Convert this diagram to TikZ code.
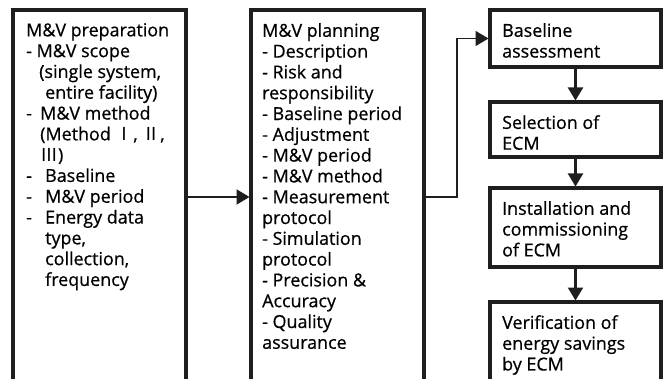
\documentclass[tikz,border=0pt]{standalone}
\usepackage{fontspec}
\setmainfont{Open Sans}[FakeBold=0.6]
\newfontfamily\cjkfont{Noto Sans CJK KR}
\usetikzlibrary{arrows.meta}
\definecolor{lc}{RGB}{30,30,30}
\newcommand\romnum[1]{{\cjkfont #1}}
\tikzset{
  box/.style={draw=lc, line width=3.4pt, outer sep=0pt, inner sep=0pt, anchor=north west},
  txt/.style={font=\fontsize{17.9}{20.8}\selectfont, align=left, inner sep=0pt, anchor=north west, text=black},
  conn/.style={draw=lc, line width=2.2pt, shorten >=1.5pt, -{Triangle[length=13pt,width=15pt]}},
}
\begin{document}
\begin{tikzpicture}[x=1pt,y=-1pt]
\useasboundingbox (0,0) rectangle (663,379);
\clip (0,0) rectangle (663,379);
% boxes
\node[box, minimum width=173pt, minimum height=400pt] (prep) at (13,10) {};
\node[box, minimum width=173pt, minimum height=400pt] (plan) at (251,10) {};
\node[box, minimum width=171pt, minimum height=57pt] (b1) at (490,10) {};
\node[box, minimum width=171pt, minimum height=55pt] (b2) at (490,102) {};
\node[box, minimum width=171pt, minimum height=79pt] (b3) at (490,188) {};
\node[box, minimum width=171pt, minimum height=100pt] (b4) at (490,302) {};
% texts
\node[txt] (prept) at ([shift={(13,13)}]prep.north west) {M\&V preparation\\
- M\&V scope\\
\hspace*{13pt}(single system,\\
\hspace*{19pt}entire facility)\\
\makebox[14pt][l]{-}M\&V method\\
\hspace*{14pt}(Method \romnum{Ⅰ}, \romnum{Ⅱ},\\
\hspace*{14pt}\romnum{Ⅲ})\\
\makebox[19pt][l]{-}Baseline\\
\makebox[19pt][l]{-}M\&V period\\
\makebox[19pt][l]{-}Energy data\\
\hspace*{19pt}type,\\
\hspace*{19pt}collection,\\
\hspace*{19pt}frequency};
\node[txt] (plant) at ([shift={(11,13)}]plan.north west) {M\&V planning\\
- Description\\
- Risk and\\
responsibility\\
- Baseline period\\
- Adjustment\\
- M\&V period\\
- M\&V method\\
- Measurement\\
protocol\\
- Simulation\\
protocol\\
- Precision \&\\
Accuracy\\
- Quality\\
assurance};
\node[txt] (b1t) at ([shift={(12,13)}]b1.north west) {Baseline\\assessment};
\node[txt] (b2t) at ([shift={(12,13)}]b2.north west) {Selection of\\ECM};
\node[txt] (b3t) at ([shift={(12,13)}]b3.north west) {Installation and\\commissioning\\of ECM};
\node[txt] (b4t) at ([shift={(12,13)}]b4.north west) {Verification of\\energy savings\\by ECM};
% connectors
\coordinate (ya) at (0,197);
\coordinate (bend) at (457,39);
\draw[conn] (prep.east |- ya) -- (plan.west |- ya);
\draw[conn, line width=1.6pt] (plan.east |- ya) -| (bend) |- (b1.west);
\draw[conn] (b1.south) -- (b2.north);
\draw[conn] (b2.south) -- (b3.north);
\draw[conn] (b3.south) -- (b4.north);
\end{tikzpicture}
\end{document}
